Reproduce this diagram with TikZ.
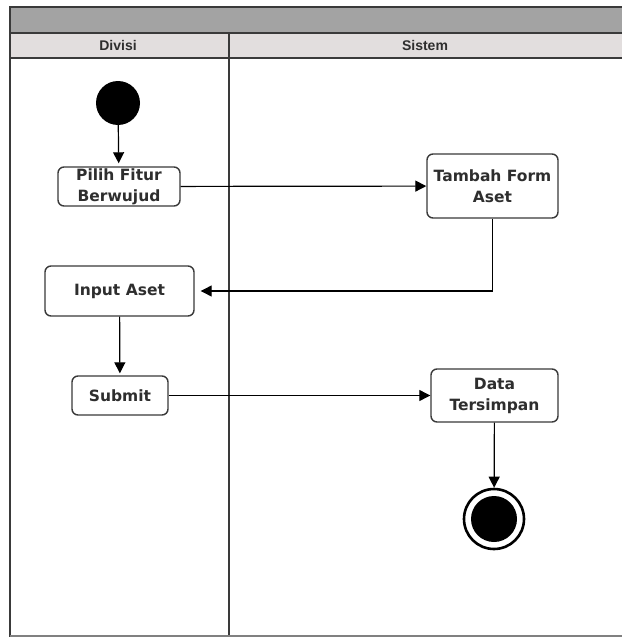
\documentclass[tikz,border=0pt]{standalone}
\usepackage{fontspec}
\setmainfont{DejaVu Sans}
\newfontfamily\hdrfont{Liberation Sans}
\usetikzlibrary{arrows.meta}
\definecolor{bandgray}{HTML}{A3A3A3}
\definecolor{hdrgray}{HTML}{E2DEDE}
\definecolor{framec}{HTML}{3A3A3A}
\definecolor{txtc}{HTML}{2E2E2E}
\tikzset{
  act/.style={draw=framec, line width=1.4pt, rounded corners=6pt, fill=white,
    font=\fontsize{15.5}{21}\selectfont\bfseries, text=txtc, align=center, inner sep=0pt},
  flow/.style={draw=black, line width=1.2pt, -{Triangle[length=11pt,width=11pt]}},
  frame/.style={draw=framec, line width=2pt},
  hdr/.style={font=\hdrfont\fontsize{14}{16}\selectfont\bfseries, text=txtc}
}
\begin{document}
\begin{tikzpicture}[x=1pt,y=-1pt]
\useasboundingbox (0,0) rectangle (622,637);
\fill[white] (0,0) rectangle (622,637);
% bands
\fill[bandgray] (10,7) rectangle (622,33);
\fill[hdrgray] (10,33) rectangle (622,58);
\draw[frame] (10,7) -- (622,7);
\draw[frame] (10,33) -- (622,33);
\draw[frame] (10,58) -- (622,58);
\draw[frame] (10,6) -- (10,637);
\draw[frame] (229,33) -- (229,637);
\draw[draw=gray, line width=1.2pt] (10,636) -- (622,636);
\node[hdr] (hdiv) at (118,45.5) {Divisi};
\node[hdr] (hsis) at (425,45.5) {Sistem};
% nodes
\node[circle, fill=black, minimum size=44pt, inner sep=0pt] (start) at (118,103) {};
\node[act, minimum width=122pt, minimum height=39pt] (pilih) at (119,186.5) {Pilih Fitur\\Berwujud};
\node[act, minimum width=131pt, minimum height=64pt] (tambah) at (492.5,186) {Tambah Form\\Aset};
\node[act, minimum width=149pt, minimum height=50pt] (input) at (119.5,291) {Input Aset};
\node[act, minimum width=96pt, minimum height=39pt] (submit) at (120,395.5) {Submit};
\node[act, minimum width=127pt, minimum height=53pt] (data) at (494.5,395.5) {Data\\Tersimpan};
\node[circle, draw=black, line width=2.6pt, fill=white, minimum size=60pt, inner sep=0pt] (endc) at (494,519) {};
\node[circle, fill=black, minimum size=46pt, inner sep=0pt] (endin) at (494,519) {};
% flows
\draw[flow, shorten >=3pt] (start) -- (pilih);
\draw[flow] (pilih) -- (tambah);
\draw[flow, shorten >=6pt] (tambah.south) |- (input.east);
\draw[flow, shorten >=2pt] (input) -- (submit);
\draw[flow] (submit) -- (data);
\draw[flow] (data) -- (endc);
\end{tikzpicture}
\end{document}
